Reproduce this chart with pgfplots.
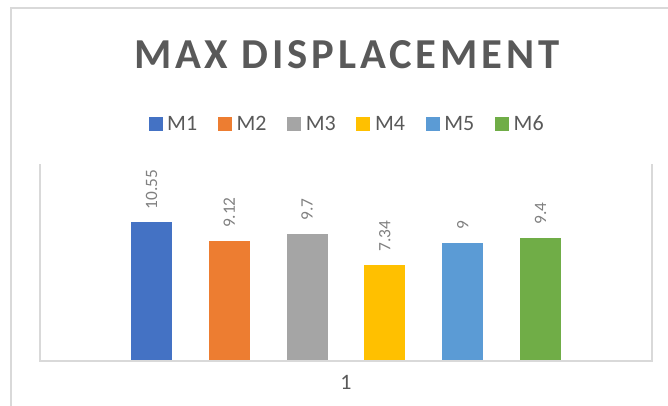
\documentclass[border=0pt]{standalone}
\usepackage{fontspec}
\setmainfont{Carlito}
\newfontfamily\titlefont[LetterSpace=9]{Carlito}
\usepackage{pgfplots}
\pgfplotsset{compat=1.18}

\definecolor{m1}{HTML}{4472C4}
\definecolor{m2}{HTML}{ED7D31}
\definecolor{m3}{HTML}{A5A5A5}
\definecolor{m4}{HTML}{FFC000}
\definecolor{m5}{HTML}{5B9BD5}
\definecolor{m6}{HTML}{70AD47}
\definecolor{txt}{HTML}{595959}
\definecolor{lbl}{HTML}{808080}
\definecolor{frame}{HTML}{D9D9D9}

\pgfplotsset{sq/.style={legend image code/.code={\fill[##1] (0pt,-5.25pt) rectangle (10.5pt,5.25pt);}}}

\begin{document}
\begin{tikzpicture}
\useasboundingbox (0,0) rectangle (501pt,303.75pt);
% chart border
\draw[frame, line width=1.1pt] (8.25pt,-5pt) -- (8.25pt,297.75pt) -- (510pt,297.75pt);
% title
\node[text=txt, font=\titlefont\fontsize{32}{36}\selectfont\bfseries] at (260pt,262.5pt) {MAX DISPLACEMENT};

\begin{axis}[
  at={(30pt,33pt)}, anchor=south west,
  scale only axis, width=459pt, height=147.75pt,
  xmin=0, xmax=2, ymin=0, ymax=15,
  ybar=27.6pt, bar width=30.75pt,
  axis line style={draw=none},
  ytick=\empty, xtick={1}, xticklabels={1},
  major tick length=0pt,
  clip=false,
  /pgf/number format/assume math mode=true,
  xticklabel style={font=\fontsize{16.5}{20}\selectfont, text=txt, yshift=-7.5pt},
  nodes near coords,
  every node near coord/.append style={rotate=90, anchor=west, inner xsep=9.75pt, inner ysep=0pt,
    font=\fontsize{13}{15}\selectfont, text=lbl},
  legend columns=-1,
  legend style={draw=none, fill=none, at={(0.504,1.203)}, anchor=center,
    font=\fontsize{16.5}{20}\selectfont, text=txt,
    nodes={inner xsep=3.5pt},
    /tikz/every even column/.append style={column sep=12pt}},
]
\addplot[fill=m1, draw=none, sq] coordinates {(1,10.55)};
\addplot[fill=m2, draw=none, sq] coordinates {(1,9.12)};
\addplot[fill=m3, draw=none, sq] coordinates {(1,9.7)};
\addplot[fill=m4, draw=none, sq] coordinates {(1,7.34)};
\addplot[fill=m5, draw=none, sq] coordinates {(1,9)};
\addplot[fill=m6, draw=none, sq] coordinates {(1,9.4)};
\legend{M1, M2, M3, M4, M5, M6}
\draw[frame, line width=1.1pt] (rel axis cs:0,1) -- (rel axis cs:0,0) -- (rel axis cs:1,0) -- (rel axis cs:1,1);
\end{axis}
\end{tikzpicture}
\end{document}
